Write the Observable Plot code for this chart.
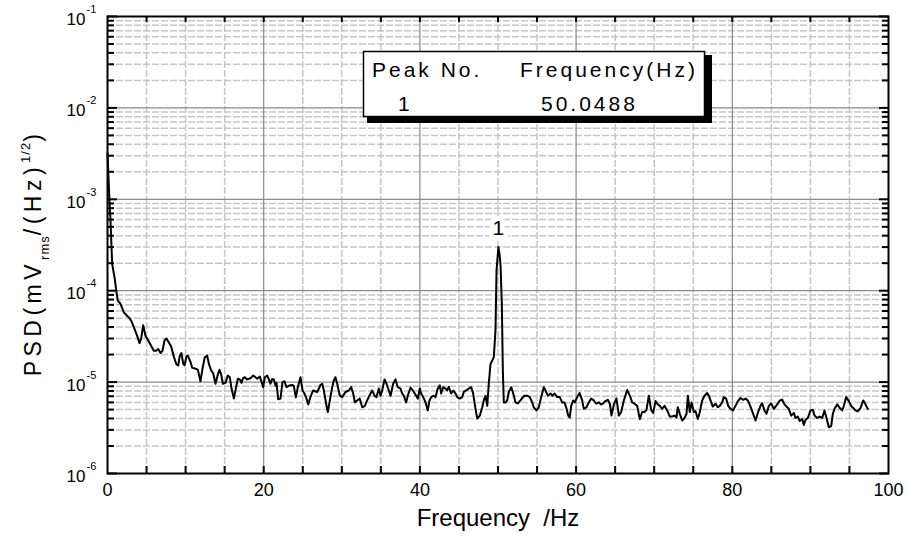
<!DOCTYPE html>
<html><head><meta charset="utf-8">
<script src="https://cdn.jsdelivr.net/npm/d3@7"></script>
<script src="https://cdn.jsdelivr.net/npm/@observablehq/plot@0.6"></script>
<style>
body{margin:0;background:#fff;}
#chart{width:908px;height:542px;}
svg text{font-family:"Liberation Sans",Arial,Helvetica,sans-serif;}
</style></head><body><div id="chart"></div>
<script>
// Frequency (Hz) and PSD values
const freq = [
  0, 0.244, 0.38, 0.6, 0.9, 1.15, 1.32, 1.66, 2.09, 2.43,
  2.73, 3.03, 3.37, 3.80, 4.10, 4.31, 4.57, 4.87, 5.16, 5.5,
  5.93, 6.23, 6.49, 6.79, 7.04, 7.30, 7.55, 7.90, 8.15, 8.49,
  8.83, 9.05, 9.26, 9.47, 9.69, 9.86, 10.1, 10.28, 10.63, 10.84,
  11.27, 11.57, 11.9, 12.2, 12.46, 12.76, 13.0, 13.28, 13.53, 13.83,
  14.13, 14.34, 14.56, 14.77, 15.1, 15.4, 15.66, 15.88, 16.18, 16.43,
  16.69, 16.94, 17.16, 17.37, 17.58, 17.88, 18.31, 18.65, 18.95, 19.17,
  19.5, 19.68, 19.93, 20.14, 20.45, 20.66, 20.87, 21.09, 21.3, 21.51,
  21.64, 21.85, 22.15, 22.4, 22.66, 22.92, 23.2, 23.65, 23.86, 24.11,
  24.37, 24.71, 24.97, 25.22, 25.48, 25.7, 25.99, 26.33, 26.85, 27.27,
  27.49, 27.7, 28.04, 28.21, 28.47, 28.77, 28.98, 29.19, 29.41, 29.75,
  30.05, 30.47, 30.9, 31.2, 31.46, 31.67, 31.97, 32.3, 32.61, 32.95,
  33.25, 33.67, 33.89, 34.19, 34.44, 34.74, 34.96, 35.17, 35.47, 35.72,
  36.02, 36.24, 36.58, 36.88, 37.17, 37.52, 37.73, 37.94, 38.24, 38.45,
  38.8, 39.09, 39.35, 39.73, 39.99, 40.16, 40.42, 40.72, 41.01, 41.23,
  41.45, 41.7, 42.0, 42.29, 42.55, 42.73, 42.98, 43.28, 43.49, 43.7,
  44.0, 44.26, 44.56, 44.78, 45.11, 45.42, 45.62, 45.93, 46.26, 46.57,
  46.82, 47.12, 47.34, 47.67, 47.98, 48.18, 48.4, 48.62, 48.82, 49.04,
  49.26, 49.46, 49.68, 49.81, 50.0488, 50.2, 50.32, 50.49, 50.62, 50.74,
  50.96, 51.18, 51.38, 51.69, 51.95, 52.24, 52.54, 52.88, 53.1, 53.39,
  53.74, 54.07, 54.38, 54.58, 54.93, 55.22, 55.53, 55.86, 56.08, 56.38,
  56.72, 56.98, 57.23, 57.58, 57.91, 58.22, 58.51, 58.73, 58.99, 59.19,
  59.37, 59.63, 59.83, 60.14, 60.44, 60.78, 60.99, 61.33, 61.63, 61.93,
  62.27, 62.57, 62.91,
  63.21, 63.47, 63.76, 64.06, 64.32, 64.53, 64.83, 65.17, 65.47, 65.77,
  66.11, 66.54, 66.88, 67.18, 67.48, 67.82, 68.16, 68.46, 68.76, 69.01,
  69.31, 69.61, 69.87, 70.17, 70.46, 70.72, 71.02, 71.32, 71.66, 72.0,
  72.3, 72.6, 72.86, 73.02, 73.28, 73.58, 73.88, 74.14, 74.31, 74.56,
  74.78, 75.07, 75.29, 75.59, 75.84, 76.14, 76.44, 76.78, 76.99, 77.21,
  77.5, 77.85, 78.14, 78.4, 78.7, 78.91, 79.21, 79.47, 79.77, 80.11,
  80.41, 80.71, 81.05, 81.39, 81.69, 81.99, 82.33, 82.67, 82.97, 83.27,
  83.61, 83.82, 84.12, 84.38, 84.68, 84.98, 85.32, 85.75, 86.09, 86.39,
  86.68, 86.94, 87.24, 87.54, 87.88, 88.09, 88.39, 88.64, 88.95, 89.16,
  89.37, 89.67, 90.01, 90.31, 90.53, 90.87, 91.2, 91.51, 91.8, 92.06,
  92.36, 92.66, 92.87, 93.09, 93.43, 93.77, 94.07, 94.28, 94.58, 94.92,
  95.22, 95.48, 95.77, 96.07, 96.41, 96.76, 96.93, 97.14, 97.35
];
const psd = [
  3.2e-3, 1.0e-3, 5.9e-4, 1.95e-4, 1.4e-4, 9.6e-5, 7.8e-5, 7.2e-5, 5.8e-5, 5.4e-5,
  5.1e-5, 4.7e-5, 4.0e-5, 3.2e-5, 2.67e-5, 3.0e-5, 4.2e-5, 3.2e-5, 2.9e-5, 2.58e-5,
  2.2e-5, 2.2e-5, 2.3e-5, 2.08e-5, 2.2e-5, 2.85e-5, 3.0e-5, 2.67e-5, 2.45e-5, 1.9e-5,
  1.56e-5, 1.52e-5, 1.95e-5, 2.08e-5, 1.59e-5, 1.52e-5, 1.9e-5, 1.95e-5, 1.66e-5, 1.44e-5,
  1.4e-5, 1.37e-5, 1.02e-5, 1.46e-5, 1.87e-5, 1.95e-5, 1.56e-5, 1.34e-5, 1.25e-5, 9.6e-6,
  1.21e-5, 1.36e-5, 1.21e-5, 9.6e-6, 9.8e-6, 1.18e-5, 1.13e-5, 8.5e-6, 6.6e-6, 8.5e-6,
  1.09e-5, 1.07e-5, 9.8e-6, 1.11e-5, 1.13e-5, 1.07e-5, 1.1e-5, 1.18e-5, 1.13e-5, 1.09e-5,
  1.15e-5, 1.04e-5, 8.8e-6, 1.13e-5, 1.18e-5, 1.07e-5, 9.6e-6, 1.08e-5, 1.07e-5, 9.1e-6,
  9.8e-6, 6.5e-6, 6.6e-6, 1.0e-5, 1.02e-5, 8.8e-6, 9.1e-6, 9.3e-6, 9.1e-6, 6.8e-6,
  8.8e-6, 1.13e-5, 8.1e-6, 7.5e-6, 6.6e-6, 5.7e-6, 6.9e-6, 8.1e-6, 7.8e-6, 9.3e-6,
  9.6e-6, 8.1e-6, 5.5e-6, 4.7e-6, 6.3e-6, 8.8e-6, 1.04e-5, 1.13e-5, 9.6e-6, 7.1e-6,
  6.85e-6, 7.8e-6, 8.1e-6, 8.8e-6, 7.5e-6, 6.0e-6, 6.3e-6, 6.6e-6, 5.3e-6, 5.5e-6,
  6.3e-6, 7.5e-6, 8.1e-6, 7.1e-6, 6.85e-6, 8.5e-6, 7.1e-6, 8.1e-6, 1.07e-5, 9.6e-6,
  8.1e-6, 7.1e-6, 9.6e-6, 1.07e-5, 8.8e-6, 8.5e-6, 7.5e-6, 7.1e-6, 6.0e-6, 7.1e-6,
  8.7e-6, 8.1e-6, 7.5e-6, 6.6e-6, 8.5e-6, 7.5e-6, 6.85e-6, 6.0e-6, 4.9e-6, 6.3e-6,
  6.85e-6, 7.1e-6, 6.85e-6, 8.5e-6, 9.2e-6, 7.5e-6, 8.8e-6, 8.5e-6, 8.1e-6, 8.9e-6,
  7.5e-6, 8.1e-6, 7.5e-6, 6.85e-6, 6.6e-6, 6.85e-6, 7.8e-6, 8.1e-6, 8.5e-6, 8.8e-6,
  7.5e-6, 5.1e-6, 4.0e-6, 4.3e-6, 5.3e-6, 6.3e-6, 7.1e-6, 5.5e-6, 9.6e-6, 1.58e-5,
  1.72e-5, 1.87e-5, 3.7e-5, 1.66e-4, 3.0e-4, 2.5e-4, 1.95e-4, 7.2e-5, 1.34e-5, 6.0e-6,
  6.0e-6, 6.3e-6, 7.8e-6, 8.8e-6, 7.5e-6, 6.0e-6, 5.85e-6, 6.3e-6, 6.7e-6, 7.1e-6,
  7.1e-6, 6.85e-6, 6.0e-6, 5.3e-6, 4.9e-6, 5.3e-6, 6.85e-6, 8.8e-6, 8.1e-6, 7.1e-6,
  7.5e-6, 7.1e-6, 7.5e-6, 6.85e-6, 6.85e-6, 6.0e-6, 6.0e-6, 5.3e-6, 4.3e-6, 4.1e-6,
  5.5e-6, 6.3e-6, 6.0e-6, 6.85e-6, 7.6e-6, 6.3e-6, 5.1e-6, 5.3e-6, 6.0e-6, 6.6e-6,
  6.3e-6, 5.8e-6, 6.0e-6,
  5.7e-6, 5.85e-6, 6.2e-6, 6.4e-6, 5.8e-6, 4.3e-6, 5.7e-6, 6.6e-6, 4.3e-6, 4.7e-6,
  6.3e-6, 8.2e-6, 7.1e-6, 6.0e-6, 5.8e-6, 5.5e-6, 3.95e-6, 4.7e-6, 4.7e-6, 4.97e-6,
  7.1e-6, 4.97e-6, 4.6e-6, 6.2e-6, 5.7e-6, 5.5e-6, 5.1e-6, 5.5e-6, 4.9e-6, 4.2e-6,
  4.2e-6, 4.3e-6, 4.1e-6, 5.3e-6, 4.5e-6, 3.8e-6, 4.05e-6, 4.5e-6, 7.1e-6, 4.7e-6,
  6.0e-6, 4.7e-6, 4.8e-6, 3.95e-6, 4.7e-6, 6.3e-6, 7.1e-6, 7.6e-6, 7.1e-6, 6.3e-6,
  5.4e-6, 5.8e-6, 5.3e-6, 5.5e-6, 6.0e-6, 6.85e-6, 6.6e-6, 5.5e-6, 5.1e-6, 4.9e-6,
  5.5e-6, 6.2e-6, 6.7e-6, 6.4e-6, 6.6e-6, 6.3e-6, 5.4e-6, 4.5e-6, 3.8e-6, 4.6e-6,
  5.5e-6, 5.85e-6, 4.9e-6, 4.5e-6, 5.5e-6, 5.85e-6, 5.1e-6, 5.7e-6, 6.3e-6, 6.4e-6,
  5.7e-6, 5.4e-6, 5.1e-6, 4.3e-6, 4.6e-6, 4.05e-6, 4.2e-6, 3.75e-6, 3.95e-6, 3.4e-6,
  3.85e-6, 4.05e-6, 4.9e-6, 4.97e-6, 4.3e-6, 4.05e-6, 4.2e-6, 4.05e-6, 4.9e-6, 4.05e-6,
  3.2e-6, 3.3e-6, 4.5e-6, 5.1e-6, 5.7e-6, 5.2e-6, 4.9e-6, 5.5e-6, 6.85e-6, 6.2e-6,
  5.5e-6, 5.2e-6, 4.9e-6, 4.8e-6, 5.2e-6, 6.3e-6, 6.0e-6, 5.5e-6, 5.1e-6
];
const xLabelTicks = [0, 20, 40, 60, 80, 100];
const xMinorTicks = [5, 10, 15, 20, 25, 30, 35, 40, 45, 50, 55, 60, 65, 70, 75, 80, 85, 90, 95];
const yDecades = [1e-6, 1e-5, 1e-4, 1e-3, 1e-2, 1e-1];
const yExponents = ["-6", "-5", "-4", "-3", "-2", "-1"];
const legendHeaders = ["Peak No.", "Frequency(Hz)"];
const peakNos = ["1"];
const peakFreqs = ["50.0488"];
const xTitle = "Frequency  /Hz";

const n = Math.min(freq.length, psd.length);
const data = d3.range(n).map(i => ({f: freq[i], v: psd[i]}));
// the labelled peak is the sample at the frequency given in the peak table
const peak = data.reduce((a, b) =>
  Math.abs(b.f - +peakFreqs[0]) < Math.abs(a.f - +peakFreqs[0]) ? b : a);
const yMinor = yDecades.slice(0, -1).flatMap(d => [2, 3, 4, 5, 6, 7, 8, 9].map(k => k * d));
const xMinorGrid = xMinorTicks.filter(t => t % 20 !== 0);
const xMajorGrid = xLabelTicks.slice(1, -1);

const font = '"Liberation Sans", Arial, Helvetica, sans-serif';
const blank = () => "";

const plot = Plot.plot({
  width: 908, height: 542,
  marginLeft: 107, marginRight: 20, marginTop: 16, marginBottom: 69,
  x: {domain: [0, 100]},
  y: {type: "log", domain: [1e-6, 1e-1]},
  style: {fontFamily: font, background: "white", color: "black"},
  marks: [
    Plot.ruleX(xMinorGrid, {stroke: "#c6c6c6", strokeWidth: 1.5, strokeDasharray: "7,2"}),
    Plot.ruleY(yMinor, {stroke: "#c6c6c6", strokeWidth: 1.5, strokeDasharray: "7,2"}),
    Plot.ruleX(xMajorGrid, {stroke: "#8a8a8a", strokeWidth: 1.2}),
    Plot.ruleY(yDecades.slice(1, -1), {stroke: "#8a8a8a", strokeWidth: 1.2}),
    Plot.axisX({anchor: "bottom", ticks: xMinorTicks, tickSize: -7, tickFormat: blank, label: null, strokeWidth: 2}),
    Plot.axisX({anchor: "top", ticks: xMinorTicks, tickSize: -5, tickFormat: blank, label: null, strokeWidth: 2}),
    Plot.axisY({anchor: "left", ticks: yMinor, tickSize: -7, tickFormat: blank, label: null, strokeWidth: 2}),
    Plot.axisY({anchor: "left", ticks: yDecades, tickSize: -10, tickFormat: blank, label: null, strokeWidth: 2}),
    Plot.axisY({anchor: "right", ticks: yMinor, tickSize: -7, tickFormat: blank, label: null, strokeWidth: 2}),
    Plot.axisY({anchor: "right", ticks: yDecades, tickSize: -10, tickFormat: blank, label: null, strokeWidth: 2}),
    Plot.axisX({anchor: "bottom", ticks: xLabelTicks, tickSize: 0, tickPadding: 10, fontSize: 18, label: null, ariaLabel: "xticklabels"}),
    Plot.text(yDecades, {y: d => d, frameAnchor: "left", text: () => "10", textAnchor: "end", dx: -22, dy: 3, fontSize: 17}),
    Plot.text(yDecades, {y: d => d, frameAnchor: "left", text: (d, i) => yExponents[i], textAnchor: "start", dx: -21, dy: -7, fontSize: 11}),
    Plot.text([xTitle], {frameAnchor: "bottom", text: d => d, dy: 52, fontSize: 24, ariaLabel: "xtitle"}),
    Plot.line(data, {x: "f", y: "v", stroke: "black", strokeWidth: 2}),
    Plot.text([peak], {x: "f", y: "v", text: () => peakNos[0], dy: -19, fontSize: 21, fill: "black", stroke: "white", strokeWidth: 10, paintOrder: "stroke"}),
    Plot.frame({stroke: "black", strokeWidth: 2})
  ]
});
document.getElementById("chart").appendChild(plot);

const svg = d3.select(plot);
svg.selectAll('g[aria-label="xticklabels"] text').style("letter-spacing", "0.5px");
svg.selectAll('g[aria-label="xtitle"] text').style("letter-spacing", "3.5px");

// y-axis title with subscript and superscript
const yt = svg.append("text")
  .attr("transform", "translate(41,253) rotate(-90)")
  .attr("text-anchor", "middle")
  .attr("font-size", 23)
  .attr("font-family", font)
  .style("letter-spacing", "4.5px");
yt.append("tspan").text("PSD(mV");
yt.append("tspan").attr("dy", 8).attr("font-size", 13).style("letter-spacing", "1px").text("rms");
yt.append("tspan").attr("dy", -8).text("/(Hz)");
yt.append("tspan").attr("dy", -11).attr("font-size", 13).style("letter-spacing", "1px").text("1/2");
yt.append("tspan").attr("dy", 11).text(")");

// peak table box
const lg = svg.append("g").attr("font-family", font).attr("font-size", 21)
  .attr("text-anchor", "start").style("letter-spacing", "3px");
lg.append("rect").attr("x", 367).attr("y", 55).attr("width", 345).attr("height", 68).attr("fill", "black");
lg.append("rect").attr("x", 363.5).attr("y", 51.5).attr("width", 341).attr("height", 65)
  .attr("fill", "white").attr("stroke", "black").attr("stroke-width", 1.5);
lg.append("text").attr("x", 372).attr("y", 77).text(legendHeaders[0]);
lg.append("text").attr("x", 520).attr("y", 77).text(legendHeaders[1]);
lg.append("text").attr("x", 398).attr("y", 111).text(peakNos[0]);
lg.append("text").attr("x", 541).attr("y", 111).text(peakFreqs[0]);
</script></body></html>
